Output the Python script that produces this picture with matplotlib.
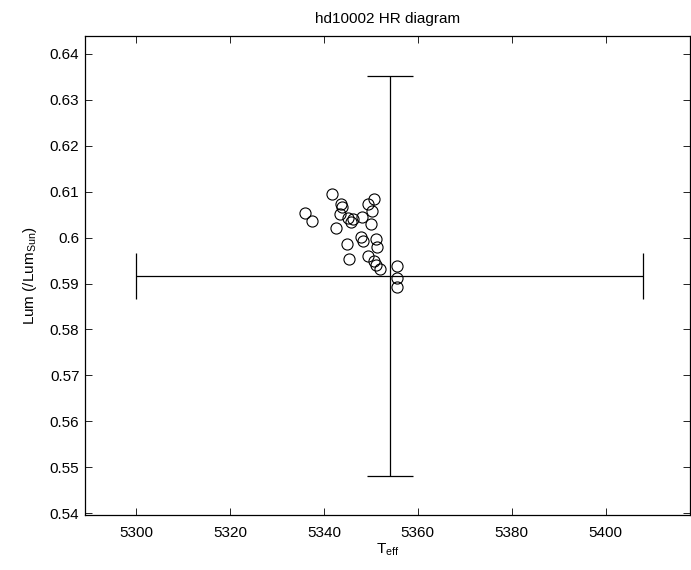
import numpy as np
import matplotlib
matplotlib.use("Agg")
import matplotlib.pyplot as plt
from matplotlib.ticker import FuncFormatter

# settings
plt.rcParams.update({
    'font.family': ['Liberation Sans', 'DejaVu Sans'],
    'font.size': 11,
    'mathtext.fontset': 'custom',
    'mathtext.rm': 'Liberation Sans',
    'mathtext.it': 'Liberation Sans',
    'xtick.direction': 'in',
    'ytick.direction': 'in',
    'xtick.top': True,
    'ytick.right': True,
})

# star samples
teff = [5341.7, 5343.7, 5343.9, 5343.5, 5336.0, 5337.5, 5345.1, 5345.8, 5346.1,
        5348.1, 5342.6, 5350.6, 5349.5, 5350.2, 5350.0, 5344.9, 5347.8, 5348.3,
        5351.2, 5351.3, 5345.3, 5349.5, 5350.6, 5351.0, 5351.9, 5355.6, 5355.6,
        5355.6]
lum = [0.6095, 0.6073, 0.6067, 0.6051, 0.6053, 0.6036, 0.6042, 0.6033, 0.6040,
       0.6044, 0.6020, 0.6083, 0.6073, 0.6059, 0.6029, 0.5986, 0.6002, 0.5993,
       0.5997, 0.5979, 0.5953, 0.5961, 0.5948, 0.5940, 0.5932, 0.5939, 0.5911,
       0.5892]

# mean value with errors
teff_mean = 5354.0
teff_err = 54.0
lum_mean = 0.5916
lum_err = 0.0436

fig = plt.figure(figsize=(6.91, 5.70), dpi=100)
ax = fig.add_axes([85/691, 55/570, 605/691, 479/570])

ax.plot(teff, lum, 'o', mfc='none', mec='k', ms=8, mew=0.8)

# vertical error bar with horizontal caps
ax.errorbar(teff_mean, lum_mean, yerr=lum_err, fmt='none', ecolor='k',
            elinewidth=0.9, capsize=16.5, capthick=0.9)
# horizontal error bar with vertical caps
ax.errorbar(teff_mean, lum_mean, xerr=teff_err, fmt='none', ecolor='k',
            elinewidth=0.9, capsize=16.5, capthick=0.9)

ax.set_xlim(5289.1, 5418)
ax.set_ylim(0.5396, 0.6439)
ax.set_xticks(np.arange(5300, 5401, 20))
ax.set_yticks(np.arange(0.54, 0.6401, 0.01))
ax.yaxis.set_major_formatter(FuncFormatter(lambda v, p: '%g' % round(v, 2)))
ax.tick_params(length=5, width=0.6)
ax.tick_params(axis='x', pad=8)
ax.tick_params(axis='y', pad=4)
for s in ax.spines.values():
    s.set_linewidth(0.9)

ax.set_title('hd10002 HR diagram', fontsize=11, pad=9)
ax.set_xlabel(r'T$_\mathregular{eff}$', labelpad=1)
ax.set_ylabel(r'Lum (/Lum$_\mathregular{Sun}$)', labelpad=8)

fig.savefig('out.png', dpi=100)
